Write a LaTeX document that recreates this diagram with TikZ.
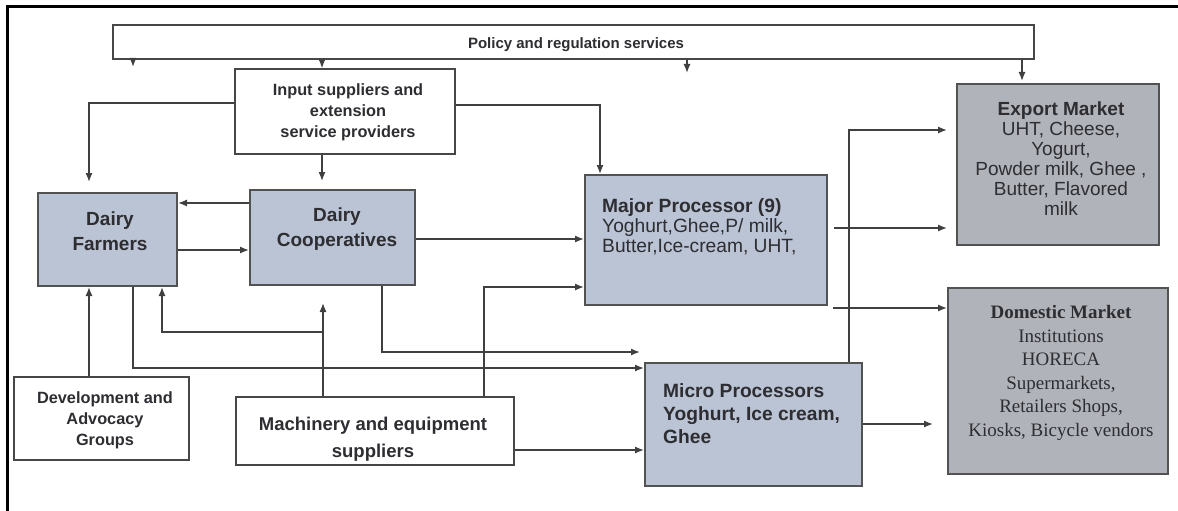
\documentclass[tikz,border=0pt]{standalone}
\usepackage{fontspec}
\setmainfont{Liberation Serif}
\newfontfamily\sansf{Liberation Sans}
\usetikzlibrary{arrows.meta,calc}
\definecolor{boxblue}{RGB}{186,196,212}
\definecolor{boxgray}{RGB}{176,179,186}
\definecolor{inkc}{RGB}{45,45,50}
\begin{document}
\begin{tikzpicture}[x=1pt,y=-1pt,
  wbox/.style={draw=black!72, line width=1.4pt, fill=white, inner sep=0pt},
  sbox/.style={draw=black!68, line width=2pt, fill=boxblue, inner sep=0pt},
  mbox/.style={draw=black!68, line width=2pt, fill=boxgray, inner sep=0pt},
  btxt/.style={inner sep=0pt, align=center, text=inkc},
  ln/.style={draw=black!75, line width=1.3pt},
  arw/.style={ln, -{Latex[length=9pt,width=7pt]}},
  fs/.style 2 args={font=\sansf\bfseries\fontsize{#1}{#2}\selectfont}
]
\useasboundingbox (0,0) rectangle (1178,511);
% frame
\draw[line width=3pt, black] (1178,7) -- (7,7) -- (7,511);

% boxes
\node[wbox, minimum width=921, minimum height=34] (policy) at (573.5,42) {};
\node[wbox, minimum width=220, minimum height=85] (input) at (345,111.5) {};
\node[sbox, minimum width=139, minimum height=93] (farmers) at (107.5,239.5) {};
\node[sbox, minimum width=165, minimum height=95] (coop) at (332.5,237.5) {};
\node[sbox, minimum width=242, minimum height=130] (major) at (706,240) {};
\node[mbox, minimum width=202, minimum height=161] (export) at (1058,164.5) {};
\node[mbox, minimum width=220, minimum height=186] (domestic) at (1058,381) {};
\node[sbox, minimum width=217, minimum height=123] (micro) at (753.5,424.5) {};
\node[wbox, minimum width=175, minimum height=83] (dev) at (101.5,418.5) {};
\node[wbox, minimum width=278, minimum height=68] (mach) at (375,431) {};

% texts
\node[btxt, fs={15}{18}] (policyt) at (576,45) {Policy and regulation services};
\node[btxt, fs={16.3}{21}] (inputt) at (348,112) {Input suppliers and\\extension\\service providers};
\node[btxt, fs={19}{25}] (farmerst) at (110,231) {Dairy\\Farmers};
\node[btxt, fs={19}{25}] (coopt) at (337,229) {Dairy\\Cooperatives};
\node[btxt, align=left, anchor=west, font=\sansf\fontsize{19.2}{20}\selectfont] (majort) at (602,227)
  {\textbf{Major Processor (9)}\\Yoghurt,Ghee,P/ milk,\\Butter,Ice-cream, UHT,};
\node[btxt, font=\sansf\fontsize{19}{20}\selectfont] (exportt) at (1061,159)
  {\textbf{Export Market}\\UHT, Cheese,\\Yogurt,\\Powder milk, Ghee ,\\Butter, Flavored\\milk};
\node[btxt, font=\rmfamily\fontsize{19}{23.5}\selectfont] (domestict) at (1061,373)
  {\textbf{Domestic Market}\\Institutions\\HORECA\\Supermarkets,\\Retailers Shops,\\Kiosks, Bicycle vendors};
\node[btxt, align=left, anchor=west, fs={19.2}{23}] (microt) at (663,414)
  {Micro Processors\\Yoghurt, Ice cream,\\Ghee};
\node[btxt, fs={16.3}{21}] (devt) at (105,420) {Development and\\Advocacy\\Groups};
\node[btxt, fs={18.5}{27}] (macht) at (373,439) {Machinery and equipment\\suppliers};

% free ends
\coordinate (pe1) at (133,67);
\coordinate (pe2) at (687,73);
\coordinate (pe3) at (640,352);
\coordinate (me1) at (323,303);
\coordinate (j1) at (323,332);
\coordinate (mj2) at (833,308);

% policy arrows
\draw[arw] (133,0 |- policy.south) -- (pe1);
\draw[arw] (322,0 |- policy.south) -- (322,0 |- input.north);
\draw[arw] (687,0 |- policy.south) -- (pe2);
\draw[arw, shorten >=2pt] (1022,0 |- policy.south) -- (1022,0 |- export.north);

% input arrows
\draw[arw, shorten >=10pt] (input.west |- 0,103) -| (89,0 |- farmers.north);
\draw[arw, shorten >=8pt] (322,0 |- input.south) -- (322,0 |- coop.north);
\draw[arw] (input.east |- 0,105) -| (600,0 |- major.north);

% farmers / coop
\draw[arw] (coop.west |- 0,203) -- (farmers.east |- 0,203);
\draw[arw] (farmers.east |- 0,250) -- (coop.west |- 0,250);
\draw[arw] (coop.east |- 0,239) -- (major.west |- 0,239);
\draw[arw] (382,0 |- coop.south) |- (pe3);
\draw[arw] (133,0 |- farmers.south) |- (micro.west |- 0,368);

% development / machinery
\draw[arw] (89,0 |- dev.north) -- (89,0 |- farmers.south);
\draw[arw] (323,0 |- mach.north) -- (me1);
\draw[arw] (j1) -| (162,0 |- farmers.south);
\draw[arw] (484,0 |- mach.north) |- (major.west |- 0,287);
\draw[arw] (mach.east |- 0,450) -- (micro.west |- 0,450);

% processors to markets
\draw[arw, shorten <=6pt, shorten >=9pt] (major.east |- 0,228) -- (export.west |- 0,228);
\draw[arw] (mj2) -- (domestic.west |- 0,308);
\draw[arw, shorten >=9pt] (849,0 |- micro.north) |- (export.west |- 0,130);
\draw[arw, shorten >=14pt] (micro.east |- 0,424) -- (domestic.west |- 0,424);
\end{tikzpicture}
\end{document}
